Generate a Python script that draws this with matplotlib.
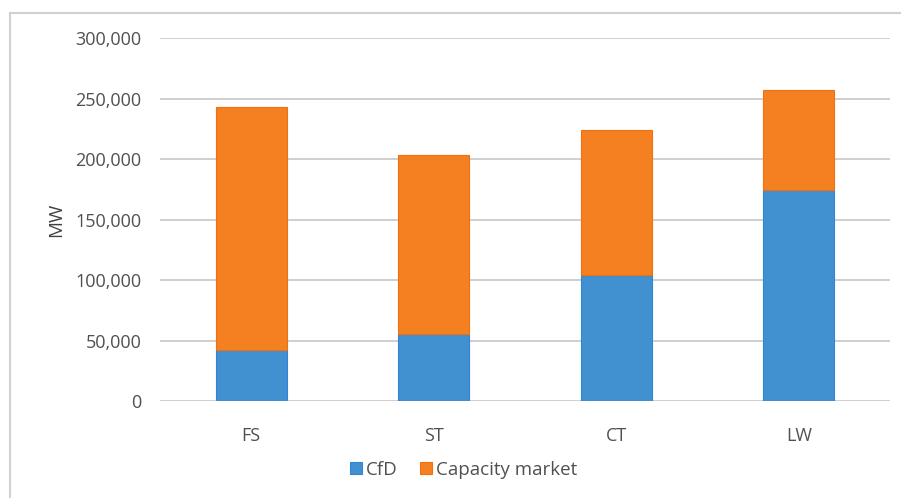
import matplotlib.pyplot as plt
from matplotlib.patches import Rectangle
from matplotlib.ticker import FuncFormatter

# %% data
categories = ['FS', 'ST', 'CT', 'LW']
cfd = [42000, 55000, 104000, 174000]
capacity_market = [201000, 148000, 120000, 83000]

plt.rcParams['font.family'] = ['Open Sans', 'DejaVu Sans']

fig = plt.figure(figsize=(9.01, 4.98), dpi=100)
# light frame round the chart (cropped at right/bottom like the original)
fig.patches.append(Rectangle((10 / 901, -0.05), 1.0, 1 - 13 / 498 + 0.05,
                             transform=fig.transFigure, fill=False,
                             edgecolor='#d0d0d0', linewidth=1.5))

ax = fig.add_axes([160 / 901, 1 - 401 / 498, 730 / 901, 363 / 498])
x = range(len(categories))
ax.bar(x, cfd, width=0.39, color='#4190d0', edgecolor='#2f86d4',
       linewidth=0.8, label='CfD', zorder=3)
ax.bar(x, capacity_market, bottom=cfd, width=0.39, color='#f58022',
       edgecolor='#f07010', linewidth=0.8, label='Capacity market', zorder=3)

ax.set_xlim(-0.5, 3.5)
ax.set_ylim(0, 300000)
ax.set_yticks(range(0, 300001, 50000))
ax.yaxis.set_major_formatter(FuncFormatter(lambda v, p: f'{int(v):,}'))
ax.set_xticks(list(x))
ax.set_xticklabels(categories)
ax.grid(axis='y', color='#cccccc', linewidth=1.3, zorder=0)
for s in ax.spines.values():
    s.set_visible(False)
ax.tick_params(length=0, labelsize=13, colors='#505050')
ax.tick_params(axis='y', pad=13.5)
ax.tick_params(axis='x', pad=19)
ax.set_ylabel('MW', fontsize=13.5, color='#404040', labelpad=7)

fig.legend(loc='center', bbox_to_anchor=(464 / 901, 1 - 470 / 498), ncol=2,
           frameon=False, fontsize=13.5, handlelength=0.6, handleheight=0.6,
           handletextpad=0.25, columnspacing=1.2, labelcolor='#505050')

fig.savefig('out.png', dpi=100)
